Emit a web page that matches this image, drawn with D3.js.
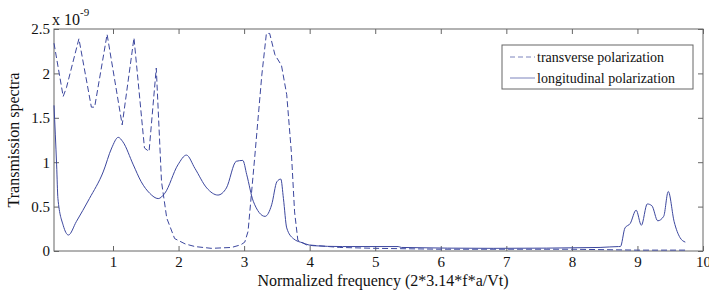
<!DOCTYPE html>
<html>
<head>
<meta charset="utf-8">
<script src="https://cdn.jsdelivr.net/npm/d3@7"></script>
<style>
  body { margin: 0; background: #fff; }
  svg text { font-family: 'Liberation Serif', 'DejaVu Serif', serif; }
</style>
</head>
<body>
<div id="chart"></div>
<script>
// transverse polarization (dashed), values in units of 1e-9
const transX = [0.1, 0.24, 0.29, 0.48, 0.67, 0.72, 0.91, 1.14, 1.32, 1.48, 1.55, 1.66, 1.74, 1.82, 1.94, 2.1, 2.25, 2.5, 2.81, 2.95, 3.01, 3.06, 3.16, 3.27, 3.34, 3.39, 3.47, 3.57, 3.65, 3.72, 3.77, 3.82, 3.95, 4.46, 5.0, 6.0, 7.0, 8.0, 9.0, 9.73];
const transY = [2.34, 1.74, 1.84, 2.39, 1.62, 1.62, 2.44, 1.42, 2.40, 1.16, 1.12, 2.06, 0.78, 0.37, 0.14, 0.08, 0.05, 0.03, 0.04, 0.07, 0.10, 0.22, 1.04, 1.98, 2.45, 2.45, 2.21, 2.09, 1.76, 1.12, 0.44, 0.12, 0.07, 0.04, 0.03, 0.02, 0.02, 0.02, 0.01, 0.01];

// longitudinal polarization (solid)
const longX = [0.1, 0.14, 0.16, 0.24, 0.32, 0.44, 0.64, 0.85, 0.98, 1.08, 1.15, 1.31, 1.43, 1.56, 1.69, 1.79, 1.99, 2.12, 2.25, 2.43, 2.60, 2.73, 2.88, 2.98, 3.04, 3.14, 3.32, 3.42, 3.50, 3.56, 3.60, 3.65, 3.75, 3.90, 4.05, 4.5, 5.35, 5.4, 6.8, 8.43, 8.71, 8.74, 8.81, 8.89, 8.98, 9.06, 9.15, 9.22, 9.31, 9.40, 9.47, 9.56, 9.65, 9.73];
const longY = [1.64, 0.97, 0.59, 0.29, 0.18, 0.33, 0.59, 0.89, 1.16, 1.28, 1.23, 0.97, 0.78, 0.65, 0.59, 0.65, 0.97, 1.08, 0.93, 0.71, 0.63, 0.71, 1.01, 1.02, 0.86, 0.56, 0.39, 0.52, 0.78, 0.81, 0.59, 0.26, 0.14, 0.09, 0.06, 0.05, 0.05, 0.04, 0.03, 0.04, 0.05, 0.05, 0.26, 0.31, 0.46, 0.29, 0.53, 0.51, 0.34, 0.39, 0.67, 0.33, 0.15, 0.10];

const xTicks = [1, 2, 3, 4, 5, 6, 7, 8, 9, 10];
const yTicks = [0, 0.5, 1, 1.5, 2, 2.5];
const legendLabels = ['transverse polarization', 'longitudinal polarization'];

const W = 709, H = 292;
const m = { left: 54, right: 6, top: 29, bottom: 41 };
const lineColor = '#3c479e';
const axisColor = '#666';
const serif = "'Liberation Serif', 'DejaVu Serif', serif";

const svg = d3.select('#chart').append('svg').attr('width', W).attr('height', H);

const x = d3.scaleLinear().domain([0.1, 10]).range([m.left, W - m.right]);
const y = d3.scaleLinear().domain([0, 2.5]).range([H - m.bottom, m.top]);

const fmt = (d) => (d === 0 ? '0' : String(d));

// axes, ticks pointing inward like matlab
const axisStyle = (g) => {
  g.attr('font-family', serif).attr('font-size', 15);
  g.select('.domain').remove();
  g.selectAll('.tick line').attr('stroke', axisColor);
  g.selectAll('.tick text').attr('fill', '#111');
};

svg.append('g')
  .attr('transform', `translate(0,${y(0)})`)
  .call(d3.axisBottom(x).tickValues(xTicks).tickFormat(fmt).tickSizeInner(-5).tickPadding(5))
  .call(axisStyle);

svg.append('g')
  .attr('transform', `translate(0,${y(2.5)})`)
  .call(d3.axisTop(x).tickValues(xTicks).tickFormat('').tickSizeInner(-5))
  .call(axisStyle);

svg.append('g')
  .attr('transform', `translate(${x(0.1)},0)`)
  .call(d3.axisLeft(y).tickValues(yTicks).tickFormat(fmt).tickSizeInner(-5).tickPadding(4))
  .call(axisStyle);

svg.append('g')
  .attr('transform', `translate(${x(10)},0)`)
  .call(d3.axisRight(y).tickValues(yTicks).tickFormat('').tickSizeInner(-5))
  .call(axisStyle);

// box
svg.append('rect')
  .attr('x', x(0.1)).attr('y', y(2.5))
  .attr('width', x(10) - x(0.1)).attr('height', y(0) - y(2.5))
  .attr('fill', 'none').attr('stroke', axisColor);

// exponent label
const expo = svg.append('text').attr('x', 52).attr('y', 25)
  .attr('font-family', serif).attr('font-size', 16).attr('fill', '#111');
expo.append('tspan').text('x 10');
expo.append('tspan').attr('dy', -9).attr('font-size', 11).text('-9');

// axis titles
svg.append('text')
  .attr('x', 383).attr('y', 286)
  .attr('text-anchor', 'middle').attr('font-family', serif).attr('font-size', 16).attr('fill', '#111')
  .text('Normalized frequency (2*3.14*f*a/Vt)');

svg.append('text')
  .attr('transform', `translate(19,${(m.top + H - m.bottom) / 2}) rotate(-90)`)
  .attr('text-anchor', 'middle').attr('font-family', serif).attr('font-size', 16).attr('fill', '#111')
  .text('Transmission spectra');

// lines
const transData = transX.map((v, i) => [v, transY[i]]);
const longData = longX.map((v, i) => [v, longY[i]]);

svg.append('path')
  .datum(transData)
  .attr('fill', 'none')
  .attr('stroke', lineColor)
  .attr('stroke-width', 1)
  .attr('stroke-dasharray', '6,3')
  .attr('d', d3.line().x((d) => x(d[0])).y((d) => y(d[1])));

svg.append('path')
  .datum(longData)
  .attr('fill', 'none')
  .attr('stroke', lineColor)
  .attr('stroke-width', 1)
  .attr('d', d3.line().curve(d3.curveMonotoneX).x((d) => x(d[0])).y((d) => y(d[1])));

// legend
const lg = svg.append('g').attr('transform', 'translate(502,45)');
lg.append('rect').attr('width', 191).attr('height', 44).attr('fill', '#fff').attr('stroke', axisColor);
legendLabels.forEach((label, i) => {
  const ly = 12 + i * 21;
  lg.append('line')
    .attr('x1', 8).attr('x2', 33).attr('y1', ly).attr('y2', ly)
    .attr('stroke', '#7d84bd').attr('stroke-width', 1)
    .attr('stroke-dasharray', i === 0 ? '5,3' : null);
  lg.append('text')
    .attr('x', 35).attr('y', ly + 5)
    .attr('font-family', serif).attr('font-size', 14).attr('fill', '#111')
    .text(label);
});
</script>
</body>
</html>
